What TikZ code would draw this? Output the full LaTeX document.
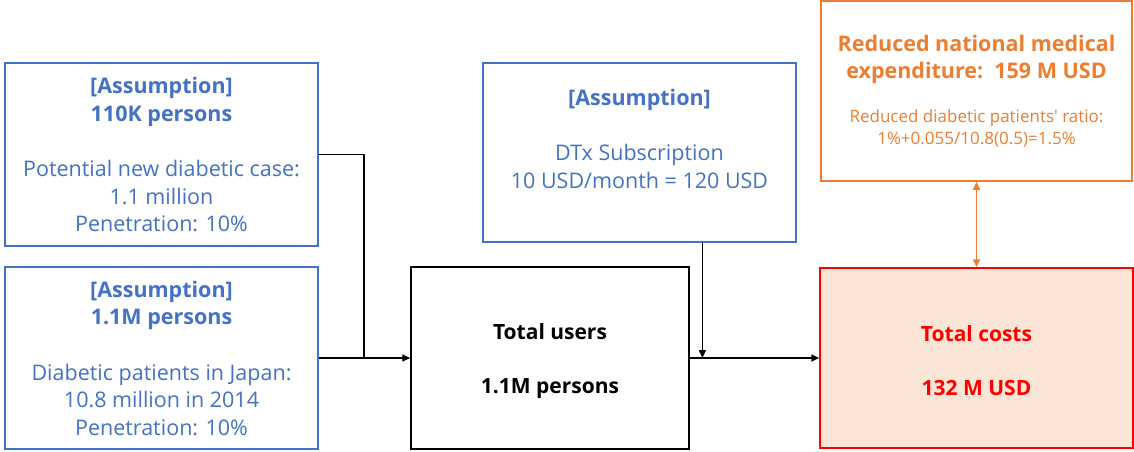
\documentclass[tikz,border=0pt]{standalone}
\usepackage{fontspec}
\setmainfont{Open Sans}
\usetikzlibrary{arrows.meta,calc}
\definecolor{officeblue}{RGB}{68,114,196}
\definecolor{officeorange}{RGB}{237,125,49}
\definecolor{costfill}{RGB}{251,229,214}
\definecolor{costred}{RGB}{255,0,0}
\newcommand{\straightquote}{{\addfontfeatures{Ligatures=TeXOff}'}}

\begin{document}
\begin{tikzpicture}[x=1pt,y=-1pt,
    box/.style={draw, line width=1.5pt, align=center, inner sep=0pt},
    assume/.style={box, officeblue, text=officeblue, minimum width=313pt,
        font=\fontsize{21.5}{27.5}\selectfont},
    flow/.style={line width=1.5pt, -{Triangle[length=8pt,width=7pt]}}]
    \useasboundingbox (0,0) rectangle (1134,451);

    % Assumption boxes on the left
    \node[assume, minimum height=183pt] (newcase) at (161.5,154.5)
        {\textbf{[Assumption]}\\\textbf{110K persons}\\[28pt]
         Potential new diabetic case:\\1.1 million\\Penetration: 10\%};
    \node[assume, minimum height=182pt] (patients) at (161.5,358)
        {\textbf{[Assumption]}\\\textbf{1.1M persons}\\[28pt]
         Diabetic patients in Japan:\\10.8 million in 2014\\Penetration: 10\%};

    % Subscription price
    \node[assume, minimum height=179pt] (dtx) at (639.5,152.5)
        {\textbf{[Assumption]}\\[28pt]
         DTx Subscription\\10 USD/month = 120 USD\\[0pt]};

    % Totals
    \node[box, black, minimum width=278pt, minimum height=182pt,
        font=\bfseries\fontsize{21}{27}\selectfont] (users) at (550,358)
        {\\[-5pt]Total users\\[27pt]1.1M persons};
    \node[box, costred, fill=costfill, minimum width=313pt, minimum height=180pt,
        font=\bfseries\fontsize{21}{27}\selectfont] (costs) at (976.5,358)
        {\\[-5pt]Total costs\\[27pt]132 M USD};

    % Reduced expenditure
    \node[box, officeorange, minimum width=311pt, minimum height=180pt,
        font=\fontsize{21.5}{27}\selectfont] (saving) at (976.5,91)
        {\textbf{Reduced national medical}\\
         \textbf{expenditure:~~159 M USD}\\[17pt]
         \fontsize{17}{21}\selectfont Reduced diabetic patients\straightquote{} ratio:\\[-5pt]
         \fontsize{17}{21}\selectfont 1\%+0.055/10.8(0.5)=1.5\%};

    % Connectors
    \coordinate (join) at (364,358);
    \coordinate (tap) at ($(dtx.south west)!0.7!(dtx.south east)$);
    \draw[line width=1.5pt] (newcase.east) -| (join);
    \draw[flow] (patients.east) -- (users.west);
    \draw[flow] (tap) -- (tap |- users.east);
    \draw[flow] (users.east) -- (costs.west);
    \draw[line width=1.5pt, officeorange, {Triangle[length=8pt,width=7pt]}-{Triangle[length=8pt,width=7pt]}]
        (saving.south) -- (costs.north);
\end{tikzpicture}
\end{document}
